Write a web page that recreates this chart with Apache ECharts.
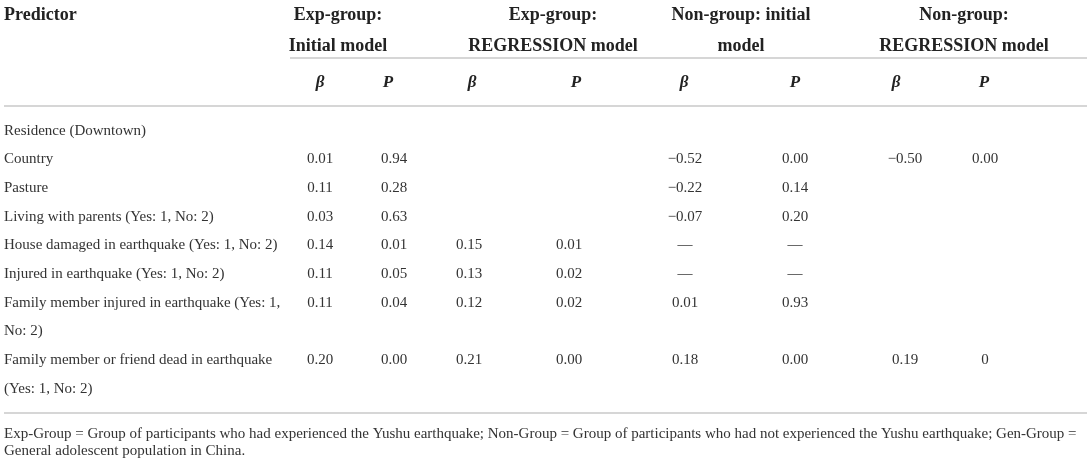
<!DOCTYPE html>
<html>
<head>
<meta charset="utf-8">
<title>Predictors table</title>
<script src="https://cdn.jsdelivr.net/npm/echarts@6/dist/echarts.min.js"></script>
<style>
  html, body { margin: 0; padding: 0; background: #fff; }
  #main { width: 1091px; height: 462px; }
</style>
</head>
<body>
<div id="main"></div>
<script>
// table content
var predictors = [
    'Residence (Downtown)',
    'Country',
    'Pasture',
    'Living with parents (Yes: 1, No: 2)',
    'House damaged in earthquake (Yes: 1, No: 2)',
    'Injured in earthquake (Yes: 1, No: 2)',
    'Family member injured in earthquake (Yes: 1,\nNo: 2)',
    'Family member or friend dead in earthquake\n(Yes: 1, No: 2)'
];
var expInitBeta  = ['', '0.01', '0.11', '0.03', '0.14', '0.11', '0.11', '0.20'];
var expInitP     = ['', '0.94', '0.28', '0.63', '0.01', '0.05', '0.04', '0.00'];
var expRegBeta   = ['', '', '', '', '0.15', '0.13', '0.12', '0.21'];
var expRegP      = ['', '', '', '', '0.01', '0.02', '0.02', '0.00'];
var nonInitBeta  = ['', '\u22120.52', '\u22120.22', '\u22120.07', '\u2014', '\u2014', '0.01', '0.18'];
var nonInitP     = ['', '0.00', '0.14', '0.20', '\u2014', '\u2014', '0.93', '0.00'];
var nonRegBeta   = ['', '\u22120.50', '', '', '', '', '', '0.19'];
var nonRegP      = ['', '0.00', '', '', '', '', '', '0'];

var groupHeaders = ['Exp-group:\nInitial model', 'Exp-group:\nREGRESSION model', 'Non-group: initial\nmodel', 'Non-group:\nREGRESSION model'];
var statHeaders = ['\u03b2', 'P', '\u03b2', 'P', '\u03b2', 'P', '\u03b2', 'P'];
var footnote = [
    'Exp-Group = Group of participants who had experienced the Yushu earthquake; Non-Group = Group of participants who had not experienced the Yushu earthquake; Gen-Group =',
    'General adolescent population in China.'
];

// layout (pixels on the hidden x axis, line slots on the y axis)
var LINE_H = 28.7, SLOT0_Y = 130.6;
var colX = [320, 394, 469, 569, 685, 795, 905, 985];
var statX = [320, 388, 472, 576, 684, 795, 896, 984];
var groupX = [338, 553, 741, 964];
var leftX = 4;
var fontFamily = '"Liberation Serif", "DejaVu Serif", serif';

function slotOf(py) { return (py - SLOT0_Y) / LINE_H; }

var valueCols = [expInitBeta, expInitP, expRegBeta, expRegP, nonInitBeta, nonInitP, nonRegBeta, nonRegP];

// build cells: [x, slot, text, kind]
var cells = [];
var slot = 0;
for (var r = 0; r < predictors.length; r++) {
    var lines = predictors[r].split('\n');
    for (var l = 0; l < lines.length; l++) {
        cells.push([leftX, slot + l, lines[l], 'label']);
    }
    for (var c = 0; c < valueCols.length; c++) {
        if (valueCols[c][r] !== '') {
            cells.push([colX[c], slot, valueCols[c][r], 'value']);
        }
    }
    slot += lines.length;
}
cells.push([leftX, slotOf(15), 'Predictor', 'head']);
for (var g = 0; g < groupHeaders.length; g++) {
    var gl = groupHeaders[g].split('\n');
    cells.push([groupX[g], slotOf(15), gl[0], 'group']);
    cells.push([groupX[g], slotOf(46), gl[1], 'group']);
}
for (var s = 0; s < statHeaders.length; s++) {
    cells.push([statX[s], slotOf(83), statHeaders[s], 'stat']);
}
cells.push([leftX, slotOf(434), footnote[0], 'note']);
cells.push([leftX, slotOf(451), footnote[1], 'note']);

// horizontal rules: [x1, x2, slot]
var rules = [
    [290, 1087, slotOf(58)],
    [4, 1087, slotOf(106)],
    [4, 1087, slotOf(413)]
];

var styles = {
    label: { font: '15px ' + fontFamily, fill: '#333', align: 'left' },
    value: { font: '15px ' + fontFamily, fill: '#333', align: 'center' },
    head:  { font: 'bold 18px ' + fontFamily, fill: '#222', align: 'left' },
    group: { font: 'bold 18px ' + fontFamily, fill: '#222', align: 'center' },
    stat:  { font: 'italic bold 17px ' + fontFamily, fill: '#222', align: 'center' },
    note:  { font: '15px ' + fontFamily, fill: '#333', align: 'left' }
};

var myChart = echarts.init(document.getElementById('main'));
var option = {
    animation: false,
    grid: { left: 0, width: 1091, top: SLOT0_Y - 4.5 * LINE_H, height: 16 * LINE_H },
    xAxis: { type: 'value', min: 0, max: 1091, show: false },
    yAxis: { type: 'value', min: -4.5, max: 11.5, inverse: true, show: false },
    series: [
        {
            type: 'custom',
            data: rules,
            renderItem: function (params, api) {
                var p1 = api.coord([api.value(0), api.value(2)]);
                var p2 = api.coord([api.value(1), api.value(2)]);
                return {
                    type: 'line',
                    shape: { x1: p1[0], y1: p1[1], x2: p2[0], y2: p2[1] },
                    style: { stroke: '#d6d6d6', lineWidth: 2 }
                };
            }
        },
        {
            type: 'custom',
            data: cells,
            renderItem: function (params, api) {
                var d = cells[params.dataIndex];
                var p = api.coord([d[0], d[1]]);
                var st = styles[d[3]];
                return {
                    type: 'text',
                    x: p[0],
                    y: p[1],
                    style: {
                        text: d[2],
                        font: st.font,
                        fill: st.fill,
                        align: st.align,
                        verticalAlign: 'middle'
                    }
                };
            }
        }
    ]
};
myChart.setOption(option);
</script>
</body>
</html>
